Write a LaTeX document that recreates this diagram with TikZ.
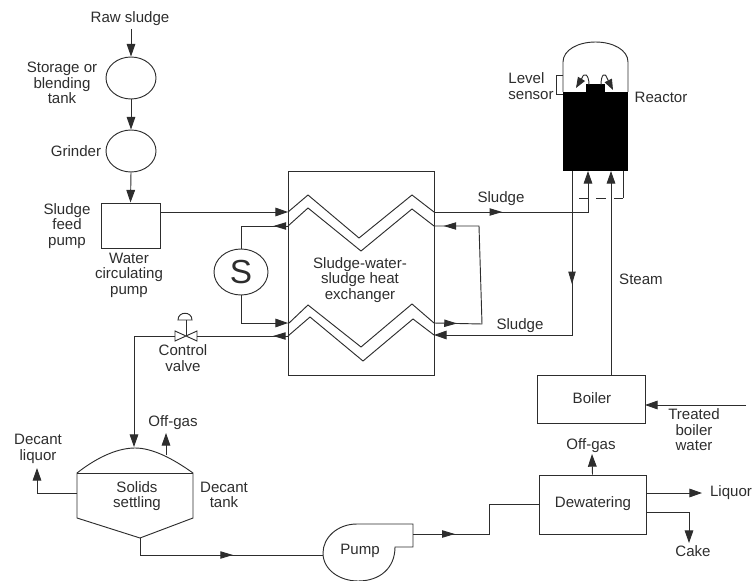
\documentclass[tikz,border=0pt]{standalone}
\usepackage{xcolor}
\usepackage{fontspec}
\setmainfont{Liberation Sans}
\usetikzlibrary{shapes.geometric, arrows.meta, decorations.markings}
\definecolor{mydark}{RGB}{45,45,45}
\tikzset{
  vessel/.style={ellipse, draw=mydark, inner sep=0pt, line width=0.7pt},
  unit/.style={rectangle, draw=mydark, inner sep=0pt, line width=0.7pt},
  txt/.style={align=center, inner sep=0pt, text=mydark, font=\fontsize{11.3}{11.6}\selectfont},
  line/.style={line width=0.7pt, color=mydark},
  arrow/.style={line, -{Triangle[length=9.5pt,width=6.5pt]}},
  smallarrow/.style={line, -{Triangle[length=8pt,width=6pt]}},
  flowmark/.style={line, postaction={decorate}, decoration={markings,
    mark=at position #1 with {\arrow{Triangle[length=9.5pt,width=5.5pt]}}}}
}
\begin{document}
\begin{tikzpicture}[x=0.75pt, y=-0.75pt]
  \useasboundingbox (0,0) rectangle (753,581);

  % Feed train
  \node[txt] (rawlbl) at (130,19) {Raw sludge};
  \coordinate (rawin) at (131,29);
  \node[vessel, minimum width=37.5pt, minimum height=31.5pt] (tank) at (131,78) {};
  \node[vessel, minimum width=37.5pt, minimum height=31.5pt] (grinder) at (131,151) {};
  \node[unit, minimum width=44.25pt, minimum height=33.75pt] (feedpump) at (130.5,225.5) {};
  \node[txt] (tanklbl) at (62,83) {Storage or\\blending\\tank};
  \node[txt] (grinderlbl) at (76,151) {Grinder};
  \node[txt] (feedlbl) at (67,226) {Sludge\\feed\\pump};
  \node[txt] (waterlbl) at (129,275) {Water\\circulating\\pump};
  \draw[arrow] (rawin) -- (tank.north);
  \draw[arrow] (tank.south) -- (grinder.north);
  \draw[arrow] (grinder.south) -- (feedpump.north);

  % Heat exchanger
  \node[unit, minimum width=109.5pt, minimum height=153pt] (hx) at (361,273.5) {};
  \node[txt] (hxlbl) at (360,280) {Sludge-water-\\sludge heat\\exchanger};
  \draw[line] (288,212) -- (308,195) -- (359,238) -- (412,195) -- (434,212);
  \draw[line] (288,226) -- (308,208) -- (361,251) -- (412,209) -- (434,226);
  \draw[line] (288,324) -- (308,305) -- (361,347) -- (412,304) -- (434,323);
  \draw[line] (288,336) -- (310,317) -- (363,361) -- (413,319) -- (434,335);
  \coordinate (hxw1) at (288,212);
  \coordinate (hxw2) at (288,226);
  \coordinate (hxw3) at (288,323);
  \coordinate (hxw4) at (288,336);
  \coordinate (hxe1) at (434,212);
  \coordinate (hxe2) at (434,226);
  \coordinate (hxe3) at (434,323);
  \coordinate (hxe4) at (434,335);
  \coordinate (feedout) at (160,212);
  \draw[arrow] (feedout) -- (hxw1);

  % Water loop
  \node[vessel, minimum width=40.5pt, minimum height=34.5pt] (spump) at (241,272) {};
  \node[inner sep=0pt, text=mydark, font=\fontsize{25}{25}\selectfont] (slbl) at (241,272) {S};
  \draw[flowmark=0.21] (hxw2) -| (spump.north);
  \draw[arrow] (spump.south) |- (hxw3);
  \coordinate (loopa) at (482,324);
  \coordinate (loopb) at (479,226);
  \draw[line, postaction={decorate}, decoration={markings,
    mark=at position 0.12 with {\arrow{Triangle[length=9.5pt,width=5.5pt]}},
    mark=at position 0.95 with {\arrow{Triangle[length=9.5pt,width=5.5pt]}}}]
    (hxe3) -- (loopa) -- (loopb) -- (hxe2);
  \node[txt] (sludgea) at (501,199) {Sludge};
  \node[txt] (sludgeb) at (520,326) {Sludge};

  % Reactor
  \draw[line] (563,92) -- (563,62) .. controls (563,50) and (578,42) .. (595.5,42) .. controls (613,42) and (628,50) .. (628,62) -- (628,92);
  \node[rectangle, fill=black, minimum width=48.75pt, minimum height=59.25pt, inner sep=0pt] (reactor) at (595.5,131.5) {};
  \node[rectangle, fill=black, minimum width=14.25pt, minimum height=6pt, inner sep=0pt] (bump) at (595.5,88.5) {};
  \draw[line] (563,75) -- (556,75) -- (556,94) -- (563,94);
  \draw[smallarrow] (589,85) .. controls (589,74) and (584,72) .. (582,78) -- (576,88);
  \draw[smallarrow] (601,85) .. controls (601,74) and (605,72) .. (607,78) -- (613,90);
  \node[txt, align=left] (levellbl) at (531,86) {Level\\sensor};
  \node[txt] (reactorlbl) at (661,97) {Reactor};
  \coordinate (rin1) at (588,171);
  \coordinate (rin2) at (611,171);
  \coordinate (rout1) at (572,171);
  \coordinate (rout2) at (623,171);
  \coordinate (dashl) at (572,198);
  \coordinate (dashr) at (623,198);
  \draw[flowmark=0.35, arrow] (hxe1) -| (rin1);
  \draw[line] (rout2) -- (dashr);
  \draw[line, dash pattern=on 7pt off 6pt] (dashr) -- (dashl);

  % Boiler and steam
  \node[unit, minimum width=81pt, minimum height=36pt] (boiler) at (591,399) {};
  \node[txt] (boilerlbl) at (592,398) {Boiler};
  \coordinate (boilertop) at (611,375);
  \coordinate (treatedin) at (746,405);
  \coordinate (boilerin) at (645,405);
  \draw[arrow] (boilertop) -- (rin2);
  \draw[arrow] (treatedin) -- (boilerin);
  \node[txt] (steamlbl) at (641,279) {Steam};
  \node[txt] (treatedlbl) at (694,430) {Treated\\boiler\\water};

  % Sludge return
  \coordinate (retcorner) at (572,335);
  \draw[flowmark=0.375, arrow] (rout1) -- (retcorner) -- (hxe4);

  % Control valve
  \coordinate (valvee) at (197,336);
  \coordinate (valvew) at (175,336);
  \coordinate (valvec) at (186,336);
  \coordinate (stem) at (186,320);
  \coordinate (settlein) at (134,447);
  \draw[flowmark=0.165] (hxw4) -- (valvee);
  \draw[line] (175,331) -- (197,341) -- (197,331) -- (175,341) -- cycle;
  \draw[line] (valvec) -- (stem);
  \draw[line] (178,320) .. controls (178,311) and (192,311) .. (192,320) -- cycle;
  \draw[arrow] (valvew) -| (settlein);
  \node[txt] (valvelbl) at (183,358) {Control\\valve};

  % Decant tank
  \draw[line] (77,473) .. controls (100,455) and (120,448) .. (135,448) .. controls (152,448) and (172,458) .. (193,473) -- (193,518) -- (140,538) -- (77,518) -- cycle;
  \draw[line] (77,473) -- (193,473);
  \coordinate (liquorout) at (77,493);
  \coordinate (liquorup) at (37,468);
  \coordinate (gasbase) at (166,455);
  \coordinate (gastop) at (166,433);
  \coordinate (tankout) at (140,538);
  \draw[arrow] (liquorout) -| (liquorup);
  \draw[arrow] (gasbase) -- (gastop);
  \node[txt] (decantliq) at (38,449) {Decant\\liquor};
  \node[txt] (gaslbla) at (173,423) {Off-gas};
  \node[txt] (solidslbl) at (137,496) {Solids\\settling};
  \node[txt] (decantlbl) at (224,495) {Decant\\tank};

  % Pump
  \draw[line] (413,524) -- (357,524) .. controls (337,524) and (323,538) .. (323,553) .. controls (323,570) and (340,581) .. (358,581) .. controls (380,581) and (395,568) .. (395,547) -- (413,547) -- cycle;
  \coordinate (pumpin) at (323,555);
  \coordinate (pumpout) at (413,534);
  \coordinate (riser) at (489,534);
  \node[txt] (pumplbl) at (360,551) {Pump};
  \draw[flowmark=0.55] (tankout) |- (pumpin);

  % Dewatering
  \node[unit, minimum width=80.25pt, minimum height=44.25pt] (dewater) at (592.5,504.5) {};
  \node[txt] (dewaterlbl) at (593,504) {Dewatering};
  \draw[flowmark=0.27] (pumpout) -- (riser) |- (dewater.west);
  \coordinate (liquorend) at (702,493);
  \coordinate (cakeend) at (689,543);
  \coordinate (dewaterl) at (646,493);
  \coordinate (dewaterc) at (646,512);
  \coordinate (gasend) at (592,454);
  \draw[arrow] (dewater.north) -- (gasend);
  \draw[arrow] (dewaterl) -- (liquorend);
  \draw[arrow] (dewaterc) -| (cakeend);
  \node[txt] (gaslblb) at (591,446) {Off-gas};
  \node[txt] (liquorlbl) at (731,493) {Liquor};
  \node[txt] (cakelbl) at (693,551) {Cake};
\end{tikzpicture}
\end{document}
